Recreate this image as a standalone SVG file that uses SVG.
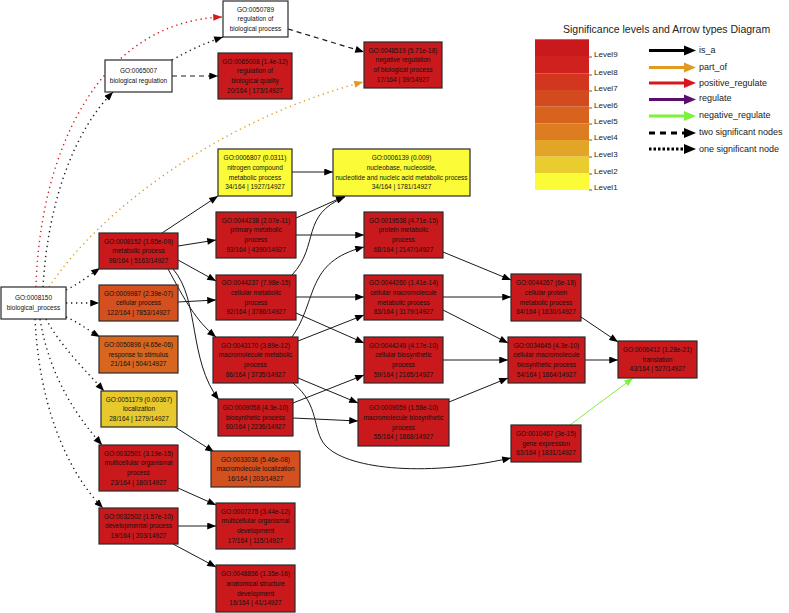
<svg xmlns="http://www.w3.org/2000/svg" width="789" height="613" viewBox="0 0 789 613">
<style>
.n rect{stroke:#2a2a2a;stroke-width:1.2}
.w{fill:#fff}.r{fill:#c9191c}.l6{fill:#d4501f}.l5{fill:#d8661f}.l2{fill:#e8c92d}.y{fill:#fbfb37}
.t{font-family:"Liberation Sans",Arial,sans-serif;font-size:6.5px;text-anchor:middle;fill:#111}
.e path{fill:none;stroke:#1a1a1a;stroke-width:1}
.e path.dt{stroke-dasharray:1.3 3.7;stroke-width:1.4}
.e path.ds{stroke-dasharray:5 4;stroke-width:1.2}
.lg{font-family:"Liberation Sans",Arial,sans-serif;font-size:9px;fill:#222}
.lv{font-family:"Liberation Sans",Arial,sans-serif;font-size:8px;fill:#222}
</style>
<defs>
<marker id="ab" viewBox="0 0 10 8" refX="10" refY="4" markerWidth="10" markerHeight="7" markerUnits="userSpaceOnUse" orient="auto"><path d="M0,0 L10,4 L0,8 z" fill="#000"/></marker>
<marker id="ar" viewBox="0 0 10 8" refX="10" refY="4" markerWidth="10" markerHeight="7" markerUnits="userSpaceOnUse" orient="auto"><path d="M0,0 L10,4 L0,8 z" fill="#d8161c"/></marker>
<marker id="ao" viewBox="0 0 10 8" refX="10" refY="4" markerWidth="10" markerHeight="7" markerUnits="userSpaceOnUse" orient="auto"><path d="M0,0 L10,4 L0,8 z" fill="#e39a22"/></marker>
<marker id="ag" viewBox="0 0 10 8" refX="10" refY="4" markerWidth="10" markerHeight="7" markerUnits="userSpaceOnUse" orient="auto"><path d="M0,0 L10,4 L0,8 z" fill="#7cf23a"/></marker>
</defs>

<g id="connectors" class="e">
<path class="dt" d="M36,287 C40,150 100,22 222,17" style="stroke:#d8161c" marker-end="url(#ar)"/>
<path class="dt" d="M43,287 C48,200 75,130 113,92" marker-end="url(#ab)"/>
<path class="dt" d="M49,287 C100,210 220,120 363,82" style="stroke:#e39a22" marker-end="url(#ao)"/>
<path class="dt" d="M66,290 C80,283 90,275 100,268" marker-end="url(#ab)"/>
<path class="dt" d="M66,303 L99,303" marker-end="url(#ab)"/>
<path class="dt" d="M66,317 C78,322 88,330 100,337" marker-end="url(#ab)"/>
<path class="dt" d="M46,319 C60,345 85,370 104,391" marker-end="url(#ab)"/>
<path class="dt" d="M40,319 C50,380 80,420 102,445" marker-end="url(#ab)"/>
<path class="dt" d="M35,319 C40,420 75,480 103,508" marker-end="url(#ab)"/>
<path class="dt" d="M172,60 C190,50 205,43 223,37" marker-end="url(#ab)"/>
<path class="ds" d="M172,76 L218,76" marker-end="url(#ab)"/>
<path class="ds" d="M288,29 L364,52" marker-end="url(#ab)"/>
<path d="M162,233 L218,196" marker-end="url(#ab)"/>
<path d="M178,246 L216,240" marker-end="url(#ab)"/>
<path d="M178,260 L216,281" marker-end="url(#ab)"/>
<path d="M178,302 L216,300" marker-end="url(#ab)"/>
<path d="M168,269 C185,300 195,320 216,337" marker-end="url(#ab)"/>
<path d="M173,269 C200,300 188,360 219,400" marker-end="url(#ab)"/>
<path d="M292,172 L333,172" marker-end="url(#ab)"/>
<path d="M296,218 L345,196" marker-end="url(#ab)"/>
<path d="M292,275 C320,245 300,215 345,197" marker-end="url(#ab)"/>
<path d="M296,235 L364,235" marker-end="url(#ab)"/>
<path d="M296,297 L364,297" marker-end="url(#ab)"/>
<path d="M296,313 L364,343" marker-end="url(#ab)"/>
<path d="M292,337 C318,300 305,262 364,247" marker-end="url(#ab)"/>
<path d="M298,341 L364,315" marker-end="url(#ab)"/>
<path d="M298,378 L358,403" marker-end="url(#ab)"/>
<path d="M293,383 C320,405 312,430 325,445 C345,468 420,478 511,458" marker-end="url(#ab)"/>
<path d="M293,403 L364,375" marker-end="url(#ab)"/>
<path d="M293,418 L358,421" marker-end="url(#ab)"/>
<path d="M443,252 L511,280" marker-end="url(#ab)"/>
<path d="M443,297 L511,297" marker-end="url(#ab)"/>
<path d="M443,310 L508,343" marker-end="url(#ab)"/>
<path d="M443,360 L508,360" marker-end="url(#ab)"/>
<path d="M449,402 L508,378" marker-end="url(#ab)"/>
<path d="M581,317 L618,342" marker-end="url(#ab)"/>
<path d="M585,360 L618,360" marker-end="url(#ab)"/>
<path d="M570,425 L633,378" style="stroke:#7cf23a" marker-end="url(#ag)"/>
<path d="M175,427 L214,452" marker-end="url(#ab)"/>
<path d="M178,488 L216,505" marker-end="url(#ab)"/>
<path d="M178,526 L216,526" marker-end="url(#ab)"/>
<path d="M173,544 L216,567" marker-end="url(#ab)"/>
</g>

<g id="GO0050789" class="n"><rect class="w" x="223" y="1" width="65" height="36"/><text class="t" x="255.5" y="11.6">GO:0050789<tspan x="255.5" dy="9.6">regulation of</tspan><tspan x="255.5" dy="9.6">biological process</tspan></text></g>
<g id="GO0065007" class="n"><rect class="w" x="105" y="60" width="67" height="32"/><text class="t" x="138.5" y="73.4">GO:0065007<tspan x="138.5" dy="9.6">biological regulation</tspan></text></g>
<g id="GO0065008" class="n"><rect class="r" x="218" y="53" width="74" height="46"/><text class="t" x="255" y="63.8">GO:0065008 (1.4e-12)<tspan x="255" dy="9.6">regulation of</tspan><tspan x="255" dy="9.6">biological quality</tspan><tspan x="255" dy="9.6">20/164 | 173/14927</tspan></text></g>
<g id="GO0048519" class="n"><rect class="r" x="364" y="42" width="78" height="46"/><text class="t" x="403" y="52.8">GO:0048519 (5.71e-18)<tspan x="403" dy="9.6">negative regulation</tspan><tspan x="403" dy="9.6">of biological process</tspan><tspan x="403" dy="9.6">17/164 | 39/14927</tspan></text></g>
<g id="GO0006807" class="n"><rect class="y" x="218" y="149" width="74" height="47"/><text class="t" x="255" y="160.3">GO:0006807 (0.0311)<tspan x="255" dy="9.6">nitrogen compound</tspan><tspan x="255" dy="9.6">metabolic process</tspan><tspan x="255" dy="9.6">34/164 | 1927/14927</tspan></text></g>
<g id="GO0006139" class="n"><rect class="y" x="333" y="149" width="137" height="47"/><text class="t" x="401.5" y="160.3">GO:0006139 (0.009)<tspan x="401.5" dy="9.6">nucleobase, nucleoside,</tspan><tspan x="401.5" dy="9.6">nucleotide and nucleic acid metabolic process</tspan><tspan x="401.5" dy="9.6">34/164 | 1781/14927</tspan></text></g>
<g id="GO0008150" class="n"><rect class="w" x="1" y="287" width="65" height="32"/><text class="t" x="33.5" y="300.4">GO:0008150<tspan x="33.5" dy="9.6">biological_process</tspan></text></g>
<g id="GO0008152" class="n"><rect class="r" x="99" y="233" width="79" height="36"/><text class="t" x="138.5" y="243.6">GO:0008152 (1.85e-09)<tspan x="138.5" dy="9.6">metabolic process</tspan><tspan x="138.5" dy="9.6">98/164 | 5163/14927</tspan></text></g>
<g id="GO0009987" class="n"><rect class="l6" x="99" y="285" width="79" height="36"/><text class="t" x="138.5" y="295.6">GO:0009987 (2.39e-07)<tspan x="138.5" dy="9.6">cellular process</tspan><tspan x="138.5" dy="9.6">122/164 | 7853/14927</tspan></text></g>
<g id="GO0050896" class="n"><rect class="l5" x="99" y="336" width="79" height="37"/><text class="t" x="138.5" y="347.1">GO:0050896 (4.65e-06)<tspan x="138.5" dy="9.6">response to stimulus</tspan><tspan x="138.5" dy="9.6">21/164 | 504/14927</tspan></text></g>
<g id="GO0051179" class="n"><rect class="l2" x="101" y="391" width="76" height="36"/><text class="t" x="139" y="401.6">GO:0051179 (0.00367)<tspan x="139" dy="9.6">localization</tspan><tspan x="139" dy="9.6">28/164 | 1279/14927</tspan></text></g>
<g id="GO0032501" class="n"><rect class="r" x="99" y="445" width="79" height="46"/><text class="t" x="138.5" y="455.8">GO:0032501 (3.19e-15)<tspan x="138.5" dy="9.6">multicellular organismal</tspan><tspan x="138.5" dy="9.6">process</tspan><tspan x="138.5" dy="9.6">23/164 | 180/14927</tspan></text></g>
<g id="GO0032502" class="n"><rect class="r" x="99" y="508" width="79" height="36"/><text class="t" x="138.5" y="518.6">GO:0032502 (1.57e-10)<tspan x="138.5" dy="9.6">developmental process</tspan><tspan x="138.5" dy="9.6">19/164 | 203/14927</tspan></text></g>
<g id="GO0044238" class="n"><rect class="r" x="216" y="212" width="80" height="46"/><text class="t" x="256" y="222.8">GO:0044238 (2.07e-11)<tspan x="256" dy="9.6">primary metabolic</tspan><tspan x="256" dy="9.6">process</tspan><tspan x="256" dy="9.6">93/164 | 4390/14927</tspan></text></g>
<g id="GO0044237" class="n"><rect class="r" x="216" y="275" width="80" height="45"/><text class="t" x="256" y="285.3">GO:0044237 (7.98e-15)<tspan x="256" dy="9.6">cellular metabolic</tspan><tspan x="256" dy="9.6">process</tspan><tspan x="256" dy="9.6">92/164 | 3786/14927</tspan></text></g>
<g id="GO0019538" class="n"><rect class="r" x="364" y="212" width="79" height="46"/><text class="t" x="403.5" y="222.8">GO:0019538 (4.71e-15)<tspan x="403.5" dy="9.6">protein metabolic</tspan><tspan x="403.5" dy="9.6">process</tspan><tspan x="403.5" dy="9.6">68/164 | 2147/14927</tspan></text></g>
<g id="GO0044260" class="n"><rect class="r" x="364" y="275" width="79" height="45"/><text class="t" x="403.5" y="285.3">GO:0044260 (1.41e-14)<tspan x="403.5" dy="9.6">cellular macromolecule</tspan><tspan x="403.5" dy="9.6">metabolic process</tspan><tspan x="403.5" dy="9.6">83/164 | 3179/14927</tspan></text></g>
<g id="GO0043170" class="n"><rect class="r" x="213" y="337" width="85" height="46"/><text class="t" x="255.5" y="347.8">GO:0043170 (3.89e-12)<tspan x="255.5" dy="9.6">macromolecule metabolic</tspan><tspan x="255.5" dy="9.6">process</tspan><tspan x="255.5" dy="9.6">86/164 | 3735/14927</tspan></text></g>
<g id="GO0044249" class="n"><rect class="r" x="364" y="337" width="79" height="46"/><text class="t" x="403.5" y="347.8">GO:0044249 (4.17e-10)<tspan x="403.5" dy="9.6">cellular biosynthetic</tspan><tspan x="403.5" dy="9.6">process</tspan><tspan x="403.5" dy="9.6">59/164 | 2165/14927</tspan></text></g>
<g id="GO0009058" class="n"><rect class="r" x="218" y="399" width="75" height="37"/><text class="t" x="255.5" y="410.1">GO:0009058 (4.3e-10)<tspan x="255.5" dy="9.6">biosynthetic process</tspan><tspan x="255.5" dy="9.6">60/164 | 2236/14927</tspan></text></g>
<g id="GO0009059" class="n"><rect class="r" x="358" y="399" width="91" height="47"/><text class="t" x="403.5" y="410.3">GO:0009059 (1.58e-10)<tspan x="403.5" dy="9.6">macromolecule biosynthetic</tspan><tspan x="403.5" dy="9.6">process</tspan><tspan x="403.5" dy="9.6">55/164 | 1868/14927</tspan></text></g>
<g id="GO0033036" class="n"><rect class="l6" x="211" y="451" width="89" height="36"/><text class="t" x="255.5" y="461.6">GO:0033036 (5.46e-08)<tspan x="255.5" dy="9.6">macromolecule localization</tspan><tspan x="255.5" dy="9.6">16/164 | 203/14927</tspan></text></g>
<g id="GO0007275" class="n"><rect class="r" x="216" y="503" width="79" height="46"/><text class="t" x="255.5" y="513.8">GO:0007275 (3.44e-12)<tspan x="255.5" dy="9.6">multicellular organismal</tspan><tspan x="255.5" dy="9.6">development</tspan><tspan x="255.5" dy="9.6">17/164 | 115/14927</tspan></text></g>
<g id="GO0048856" class="n"><rect class="r" x="216" y="565" width="79" height="47"/><text class="t" x="255.5" y="576.3">GO:0048856 (1.35e-16)<tspan x="255.5" dy="9.6">anatomical structure</tspan><tspan x="255.5" dy="9.6">development</tspan><tspan x="255.5" dy="9.6">16/164 | 41/14927</tspan></text></g>
<g id="GO0044267" class="n"><rect class="r" x="511" y="274" width="70" height="47"/><text class="t" x="546" y="285.3">GO:0044267 (6e-18)<tspan x="546" dy="9.6">cellular protein</tspan><tspan x="546" dy="9.6">metabolic process</tspan><tspan x="546" dy="9.6">64/164 | 1630/14927</tspan></text></g>
<g id="GO0034645" class="n"><rect class="r" x="508" y="337" width="77" height="46"/><text class="t" x="546.5" y="347.8">GO:0034645 (4.3e-10)<tspan x="546.5" dy="9.6">cellular macromolecule</tspan><tspan x="546.5" dy="9.6">biosynthetic process</tspan><tspan x="546.5" dy="9.6">54/164 | 1864/14927</tspan></text></g>
<g id="GO0006412" class="n"><rect class="r" x="618" y="341" width="79" height="37"/><text class="t" x="657.5" y="352.1">GO:0006412 (1.28e-21)<tspan x="657.5" dy="9.6">translation</tspan><tspan x="657.5" dy="9.6">43/164 | 527/14927</tspan></text></g>
<g id="GO0010467" class="n"><rect class="r" x="511" y="425" width="70" height="37"/><text class="t" x="546" y="436.1">GO:0010467 (3e-15)<tspan x="546" dy="9.6">gene expression</tspan><tspan x="546" dy="9.6">63/164 | 1831/14927</tspan></text></g>

<g id="legend">
<text x="563" y="33" font-family="'Liberation Sans',Arial,sans-serif" font-size="10.5" fill="#222">Significance levels and Arrow types Diagram</text>
<rect x="535" y="39.3" width="54" height="16.8" fill="#c9191c"/>
<rect x="535" y="56" width="54" height="17.3" fill="#cf221e"/>
<rect x="535" y="73.3" width="54" height="16.7" fill="#d3361f"/>
<rect x="535" y="90" width="54" height="16.7" fill="#d44a1f"/>
<rect x="535" y="106.7" width="54" height="16.6" fill="#d8631f"/>
<rect x="535" y="123.3" width="54" height="16.7" fill="#dc7d22"/>
<rect x="535" y="140" width="54" height="16.7" fill="#e3a528"/>
<rect x="535" y="156.7" width="54" height="16.6" fill="#e9cd2f"/>
<rect x="535" y="173.3" width="54" height="16.7" fill="#fbfb37"/>
<g stroke="#333" stroke-width="0.8">
<path d="M589,57H592M589,75H592M589,91H592M589,108H592M589,124H592M589,140H592M589,157H592M589,174H592M589,190H592"/>
</g>
<text class="lv" x="594" y="57">Level9</text>
<text class="lv" x="594" y="75">Level8</text>
<text class="lv" x="594" y="91">Level7</text>
<text class="lv" x="594" y="108">Level6</text>
<text class="lv" x="594" y="124">Level5</text>
<text class="lv" x="594" y="140">Level4</text>
<text class="lv" x="594" y="157">Level3</text>
<text class="lv" x="594" y="174">Level2</text>
<text class="lv" x="594" y="190">Level1</text>
<g stroke-width="3" fill="none">
<path d="M649,50.5H686" stroke="#000"/>
<path d="M649,67.5H686" stroke="#e39a22"/>
<path d="M649,83H686" stroke="#d8161c"/>
<path d="M649,99.5H686" stroke="#5a0f6e"/>
<path d="M649,116H686" stroke="#7cf23a"/>
<path d="M649,133H686" stroke="#000" stroke-dasharray="6 5"/>
<path d="M649,149H686" stroke="#000" stroke-dasharray="2.5 2"/>
</g>
<path d="M684,45.5L696,50.5L684,55.5z" fill="#000"/>
<path d="M684,62.5L696,67.5L684,72.5z" fill="#e39a22"/>
<path d="M684,78L696,83L684,88z" fill="#d8161c"/>
<path d="M684,94.5L696,99.5L684,104.5z" fill="#5a0f6e"/>
<path d="M684,111L696,116L684,121z" fill="#7cf23a"/>
<path d="M684,128L696,133L684,138z" fill="#000"/>
<path d="M684,144L696,149L684,154z" fill="#000"/>
<text class="lg" x="699" y="53">is_a</text>
<text class="lg" x="699" y="70">part_of</text>
<text class="lg" x="699" y="85.5">positive_regulate</text>
<text class="lg" x="699" y="101">regulate</text>
<text class="lg" x="699" y="118">negative_regulate</text>
<text class="lg" x="699" y="135">two significant nodes</text>
<text class="lg" x="699" y="151.5">one significant node</text>
</g>
</svg>
